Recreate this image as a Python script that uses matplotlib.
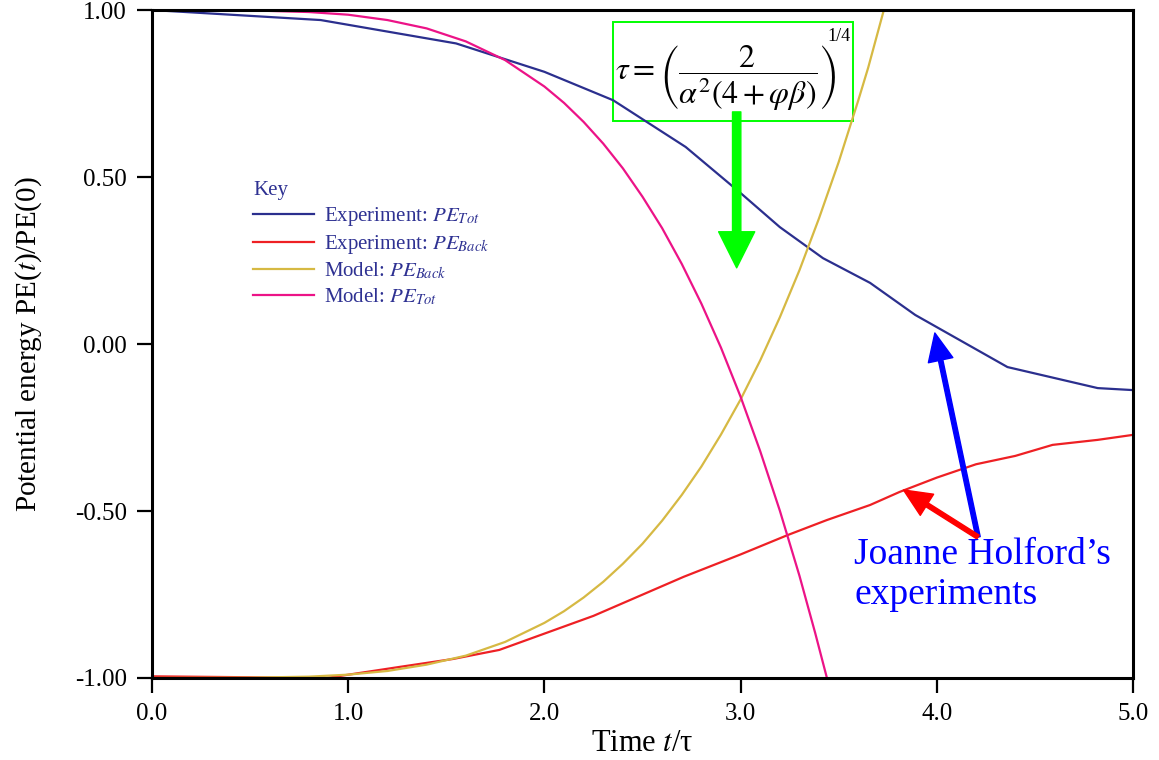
import matplotlib
matplotlib.use("Agg")
import matplotlib.pyplot as plt
from matplotlib.patches import Rectangle

plt.rcParams['font.family'] = ['Liberation Serif', 'DejaVu Serif']
plt.rcParams['mathtext.fontset'] = 'stix'

# experiment: total potential energy
exp_tot_t = [0.0, 0.86, 1.55, 2.0, 2.35, 2.72, 3.0, 3.2, 3.42, 3.66, 3.89, 4.36, 4.82, 5.0]
exp_tot_pe = [1.0, 0.97, 0.90, 0.815, 0.73, 0.59, 0.452, 0.35, 0.257, 0.183, 0.087, -0.069, -0.132, -0.138]

# experiment: background potential energy
exp_back_t = [0.0, 0.89, 1.26, 1.535, 1.77, 2.25, 2.71, 3.0, 3.24, 3.44, 3.66, 3.81, 4.0,
              4.2, 4.4, 4.59, 4.82, 5.0]
exp_back_pe = [-0.995, -1.0, -0.967, -0.943, -0.916, -0.814, -0.697, -0.63, -0.572, -0.527,
               -0.482, -0.443, -0.40, -0.36, -0.335, -0.302, -0.287, -0.272]

# model curves
mod_back_t = [0.0, 0.5, 0.8, 1.0, 1.2, 1.4, 1.6, 1.8, 2.0, 2.1, 2.2, 2.3, 2.4, 2.5, 2.6,
              2.7, 2.8, 2.9, 3.0, 3.1, 3.2, 3.3, 3.4, 3.5, 3.6, 3.65, 3.73]
mod_back_pe = [-1.0, -0.999, -0.996, -0.990, -0.979, -0.960, -0.933, -0.892, -0.835, -0.800,
               -0.759, -0.712, -0.658, -0.598, -0.529, -0.452, -0.367, -0.271, -0.166,
               -0.049, 0.080, 0.221, 0.377, 0.545, 0.730, 0.827, 1.0]
mod_tot_t = [0.0, 0.5, 0.8, 1.0, 1.2, 1.4, 1.6, 1.8, 2.0, 2.1, 2.2, 2.3, 2.4, 2.5, 2.6,
             2.7, 2.8, 2.9, 3.0, 3.1, 3.2, 3.3, 3.38, 3.44]
mod_tot_pe = [1.0, 0.999, 0.994, 0.986, 0.970, 0.945, 0.906, 0.850, 0.771, 0.722, 0.665,
              0.600, 0.526, 0.441, 0.347, 0.240, 0.121, -0.011, -0.158, -0.321, -0.499,
              -0.694, -0.865, -1.0]

x_ticks = [0.0, 1.0, 2.0, 3.0, 4.0, 5.0]
y_ticks = [-1.0, -0.5, 0.0, 0.5, 1.0]

navy = '#2E3192'

fig = plt.figure(figsize=(11.59, 7.6), dpi=100)
ax = fig.add_axes([0.1311, 0.1079, 0.8465, 0.8789])

ax.plot(exp_tot_t, exp_tot_pe, color='#2B2F8E', lw=1.6, label='Experiment: $PE_{Tot}$')
ax.plot(exp_back_t, exp_back_pe, color='#EE2024', lw=1.6, label='Experiment: $PE_{Back}$')
ax.plot(mod_back_t, mod_back_pe, color='#D6B943', lw=1.6, label='Model: $PE_{Back}$')
ax.plot(mod_tot_t, mod_tot_pe, color='#EC1387', lw=1.6, label='Model: $PE_{Tot}$')

ax.set_xlim(0, 5)
ax.set_ylim(-1, 1)
ax.set_xticks(x_ticks)
ax.set_xticklabels(['%.1f' % v for v in x_ticks])
ax.set_yticks(y_ticks)
ax.set_yticklabels(['%.2f' % v for v in y_ticks])
ax.tick_params(direction='out', length=11, width=1.6, labelsize=18, pad=7)
for s in ax.spines.values():
    s.set_linewidth(2.2)

ax.set_xlabel('Time $t$/τ', fontsize=22, labelpad=3)
ax.set_ylabel('Potential energy PE($t$)/PE(0)', fontsize=21, labelpad=22)

leg = ax.legend(loc='upper left', bbox_to_anchor=(0.084, 0.772), frameon=False,
                title='Key', fontsize=15, title_fontsize=15, labelcolor=navy,
                handlelength=2.9, handletextpad=0.5, labelspacing=0.24, alignment='left')
leg.get_title().set_color(navy)

# formula box
ax.add_patch(Rectangle((2.35, 0.668), 1.223, 0.296, fill=False, ec='#00FF00', lw=1.4))
ax.text(2.36, 0.796, r'$\tau=\left(\dfrac{2}{\alpha^2\left(4+\varphi\beta\right)}\right)$',
        fontsize=23, ha='left', va='center')
ax.text(3.44, 0.945, '1/4', fontsize=13, ha='left', va='top')

# arrows
ax.annotate('', xy=(2.98, 0.228), xytext=(2.98, 0.695),
            arrowprops=dict(arrowstyle='simple,head_length=26,head_width=26,tail_width=6',
                            mutation_scale=1, color='#00FF00', shrinkA=0, shrinkB=0))
ax.annotate('', xy=(3.99, 0.033), xytext=(4.21, -0.578),
            arrowprops=dict(arrowstyle='simple,head_length=20,head_width=18,tail_width=3.2',
                            mutation_scale=1, color='#0000FF', shrinkA=0, shrinkB=0))
ax.annotate('', xy=(3.83, -0.437), xytext=(4.21, -0.578),
            arrowprops=dict(arrowstyle='simple,head_length=20,head_width=18,tail_width=3.2',
                            mutation_scale=1, color='#FF0000', shrinkA=0, shrinkB=0))
ax.text(3.58, -0.58, 'Joanne Holford’s\nexperiments', color='#0000FF', fontsize=27,
        ha='left', va='top', linespacing=1.2)

fig.savefig('out.png', dpi=100)
